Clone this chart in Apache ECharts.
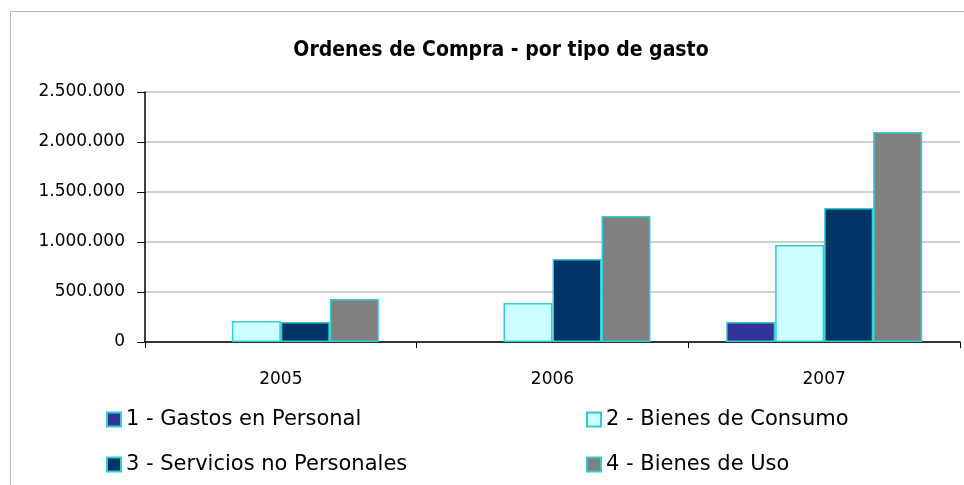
<!DOCTYPE html>
<html>
<head>
<meta charset="utf-8">
<script src="https://cdn.jsdelivr.net/npm/echarts@6/dist/echarts.min.js"></script>
<style>
html,body{margin:0;padding:0;background:#fff;}
#frame{position:absolute;left:10px;top:11px;width:960px;height:480px;border-top:1px solid #bdbdbd;border-left:1px solid #bdbdbd;}
#chart{position:absolute;left:0;top:0;width:964px;height:485px;}
</style>
</head>
<body>
<div id="frame"></div>
<div id="chart"></div>
<script>
//datos del grafico
var years = ['2005', '2006', '2007'];
var seriesNames = ['1 - Gastos en Personal', '2 - Bienes de Consumo', '3 - Servicios no Personales', '4 - Bienes de Uso'];
var gastosPersonal = [0, 0, 200000];
var bienesConsumo = [210000, 390000, 970000];
var serviciosNoPersonales = [200000, 830000, 1340000];
var bienesUso = [430000, 1260000, 2100000];
var colores = ['#333399', '#CCFFFF', '#003366', '#808080'];

//formato con puntos de miles
function miles(v){
	return String(v).replace(/\B(?=(\d{3})+(?!\d))/g, '.');
}

var myChart = echarts.init(document.getElementById('chart'));
var valores = [gastosPersonal, bienesConsumo, serviciosNoPersonales, bienesUso];
var series = [];
for(var i=0;i<seriesNames.length;i++){
	//las barras en cero no llevan borde
	var datos = valores[i].map(function(v){
		return v === 0 ? {value : v, itemStyle : {borderWidth : 0}} : v;
	});
	series.push({
		name : seriesNames[i],
		type : 'bar',
		data : datos,
		barWidth : 49,
		barGap : '0%',
		itemStyle : {
			color : colores[i],
			borderColor : '#33CCCC',
			borderWidth : 1.5
		}
	});
}

var fuenteLeyenda = {fontFamily : 'DejaVu Sans', fontSize : 21, color : '#000'};

myChart.setOption({
	animation : false,
	title : {
		text : 'Ordenes de Compra - por tipo de gasto',
		left : 496,
		textAlign : 'center',
		top : 35,
		textStyle : {
			fontFamily : '"DejaVu Sans Condensed", "DejaVu Sans", sans-serif',
			fontWeight : 'bold',
			fontSize : 21,
			color : '#000'
		}
	},
	legend : [{
		data : [seriesNames[0], seriesNames[2]],
		orient : 'vertical',
		left : 101,
		top : 404,
		itemWidth : 14,
		itemHeight : 14,
		itemGap : 24,
		icon : 'rect',
		textStyle : fuenteLeyenda
	}, {
		data : [seriesNames[1], seriesNames[3]],
		orient : 'vertical',
		left : 581,
		top : 404,
		itemWidth : 14,
		itemHeight : 14,
		itemGap : 24,
		icon : 'rect',
		textStyle : fuenteLeyenda
	}],
	grid : {
		left : 145,
		right : 4,
		top : 92,
		bottom : 143,
		containLabel : false
	},
	xAxis : {
		type : 'category',
		data : years,
		boundaryGap : true,
		axisLine : {lineStyle : {color : '#000', width : 1.5}},
		axisTick : {show : true, length : 6, inside : false, lineStyle : {color : '#000'}},
		axisLabel : {margin : 29, fontFamily : 'DejaVu Sans', fontSize : 17, color : '#000'}
	},
	yAxis : {
		type : 'value',
		min : 0,
		max : 2500000,
		interval : 500000,
		axisLine : {show : true, lineStyle : {color : '#000', width : 1.5}},
		axisTick : {show : true, length : 8, lineStyle : {color : '#000'}},
		splitLine : {lineStyle : {color : '#cfcfcf', width : 2}},
		axisLabel : {
			margin : 20,
			fontFamily : 'DejaVu Sans',
			fontSize : 17,
			color : '#000',
			formatter : function(v){ return miles(v); }
		}
	},
	series : series
});
</script>
</body>
</html>
